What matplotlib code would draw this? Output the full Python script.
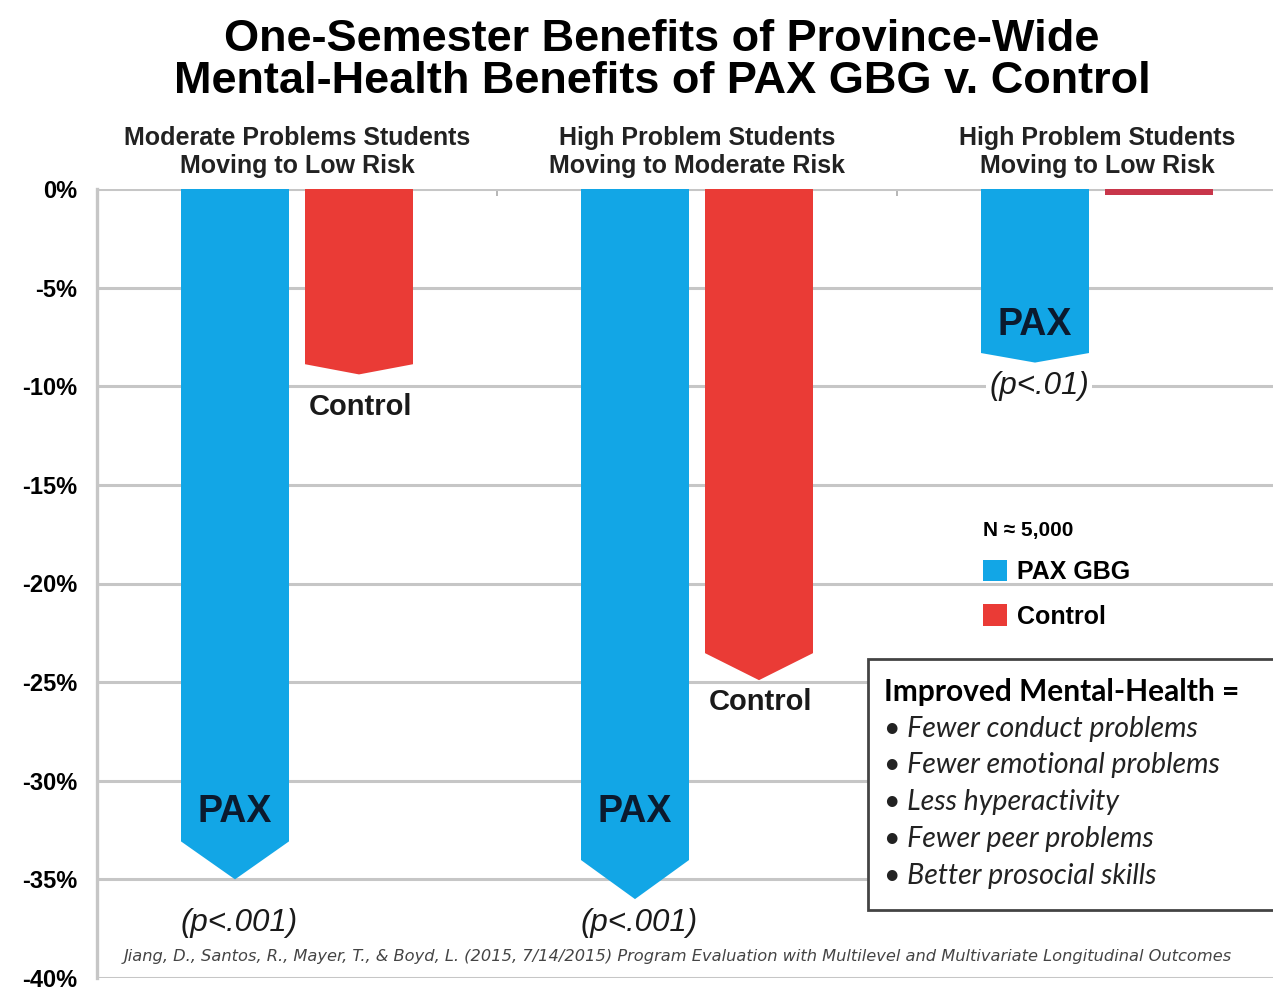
import matplotlib
matplotlib.use('Agg')
import matplotlib.pyplot as plt
from matplotlib.patches import Polygon, Patch
import numpy as np

plt.rcParams['font.family'] = ['Liberation Sans', 'DejaVu Sans']

# data (percent change)
groups = ['Moderate Problems Students\nMoving to Low Risk',
          'High Problem Students\nMoving to Moderate Risk',
          'High Problem Students\nMoving to Low Risk']
pax = [-35.0, -36.0, -8.8]
control = [-9.4, -24.9, -0.3]
p_labels = ['(p<.001)', '(p<.001)', '(p<.01)']
yticks = [0, -5, -10, -15, -20, -25, -30, -35, -40]
bullets = ['Fewer conduct problems', 'Fewer emotional problems',
           'Less hyperactivity', 'Fewer peer problems', 'Better prosocial skills']

# label placement (y, in %)
pax_label_y = [-31.6, -31.6, -6.9]
control_label_y = [-11.05, -26.0, None]
p_label_y = [-37.2, -37.2, -10.0]

blue = '#12a6e6'
red = '#ea3b36'
grid = '#c6c6c6'

fig = plt.figure(figsize=(12.73, 9.9), dpi=100)
ax = fig.add_axes([97 / 1273, 12 / 990, 1 - 97 / 1273, (978 - 189) / 990])

x = np.arange(len(groups))
width = 0.27
off = 0.155


def arrow_bar(xc, val, color):
    # bar with a downward chevron tip ending at val
    notch = 0.055 * abs(val)
    body = val + notch
    pts = [(xc - width / 2, 0), (xc + width / 2, 0), (xc + width / 2, body),
           (xc, val), (xc - width / 2, body)]
    ax.add_patch(Polygon(pts, closed=True, facecolor=color, edgecolor='none', zorder=3))


for i in range(len(groups)):
    xp = x[i] - off
    xc = x[i] + off
    arrow_bar(xp, pax[i], blue)
    ax.text(xp, pax_label_y[i], 'PAX', ha='center', va='center', fontsize=27,
            fontweight='bold', color='#0b1a2e', zorder=4)
    if control_label_y[i] is not None:
        arrow_bar(xc, control[i], red)
        ax.text(xc + 0.005, control_label_y[i], 'Control', ha='center', va='center',
                fontsize=21, fontweight='bold', color='#1a1a1a', zorder=4)
    else:
        ax.bar(xc, control[i], width=width, color='#c8364a', zorder=3)
    ax.text(xp + 0.01, p_label_y[i], p_labels[i], ha='center', va='center',
            fontsize=22.5, style='italic', color='#1a1a1a', zorder=4,
            bbox=dict(facecolor='white', edgecolor='none', pad=2))

ax.set_xlim(-0.5, 2.44)
ax.set_ylim(-40, 0)
ax.set_yticks(yticks)
ax.set_yticklabels([f'{t}%' for t in yticks], fontsize=17, fontweight='bold')
ax.tick_params(axis='y', length=0, pad=14)
# small category separators on the 0% line
ax.set_xticks([0.5, 1.5])
ax.tick_params(axis='x', top=True, bottom=False, labeltop=False, labelbottom=False,
               direction='in', length=5, width=1.2, color='#aaaaaa')
ax.yaxis.grid(True, color=grid, linewidth=2.2, zorder=0)
ax.set_axisbelow(True)
for s in ['top', 'right', 'bottom']:
    ax.spines[s].set_visible(False)
ax.spines['left'].set_color(grid)
ax.spines['left'].set_linewidth(2.4)

# category headers
for i, g in enumerate(groups):
    ax.text(x[i], 1.88, g, ha='center', va='center', fontsize=18, fontweight='bold',
            color='#222222', linespacing=1.18, clip_on=False)

# title
fig.text(0.52, 0.939, 'One-Semester Benefits of Province-Wide\nMental-Health Benefits of PAX GBG v. Control',
         ha='center', va='center', fontsize=32.5, fontweight='bold', linespacing=1.05)

# legend
handles = [Patch(facecolor=blue), Patch(facecolor=red)]
leg = ax.legend(handles, ['PAX GBG', 'Control'], title='N \u2248 5,000', loc='upper left',
                bbox_to_anchor=(0.745, 0.592), frameon=False, fontsize=18,
                handlelength=0.95, handleheight=0.95, handletextpad=0.4,
                labelspacing=0.8, alignment='left', borderaxespad=0)
for t in leg.get_texts():
    t.set_fontweight('bold')
leg.get_title().set_fontsize(15)
leg.get_title().set_fontweight('bold')

# explanation box
ax.text(0.669, 0.363, 'Improved Mental-Health =', transform=ax.transAxes,
        fontsize=21.5, fontweight='bold', family=['Lato', 'DejaVu Sans'], va='center', zorder=6)
for k, b in enumerate(bullets):
    ax.text(0.669, 0.316 - k * 0.0466, '\u2022 ' + b, transform=ax.transAxes,
            fontsize=20.5, style='italic', family=['Lato', 'DejaVu Sans'], va='center',
            color='#222222', zorder=6)
ax.add_patch(plt.Rectangle((0.6556, 0.0862), 0.36, 0.318, transform=ax.transAxes,
                           facecolor='white', edgecolor='#444444', linewidth=2,
                           zorder=5, clip_on=False))

# citation
ax.text(0.9525, -38.9, 'Jiang, D., Santos, R., Mayer, T., & Boyd, L. (2015, 7/14/2015) Program Evaluation with Multilevel and Multivariate Longitudinal Outcomes',
        ha='center', va='center', fontsize=11.7, style='italic', color='#444444',
        family=['DejaVu Sans'], zorder=4)

fig.savefig('out.png', dpi=100)
